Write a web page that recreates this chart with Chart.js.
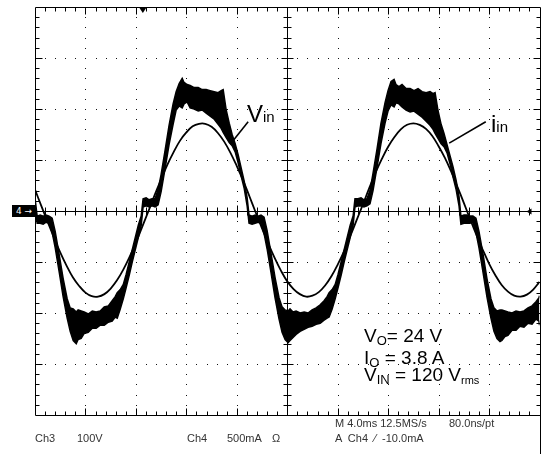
<!DOCTYPE html>
<html>
<head>
<meta charset="utf-8">
<script src="https://cdn.jsdelivr.net/npm/chart.js"></script>
<style>
  html, body { margin: 0; padding: 0; background: #fff; }
  #wrap { position: relative; width: 544px; height: 454px; overflow: hidden; font-family: "Liberation Sans", Arial, sans-serif; color: #000; }
  #scope { position: absolute; left: 0; top: 0; }
  .lbl { position: absolute; white-space: pre; }
  .big { font-size: 24px; line-height: 24px; }
  .big .s { font-size: 15px; }
  .cond { font-size: 19px; line-height: 19px; }
  .cond .s { font-size: 13px; vertical-align: -3px; }
  .cond .r { font-size: 11px; vertical-align: -3px; }
  .foot { font-size: 11px; line-height: 11px; color: #333; }
  #ch4mark { position: absolute; left: 12px; top: 205px; width: 23px; height: 12px; background: #000; color: #fff; font-family: "DejaVu Sans", sans-serif; font-size: 9px; line-height: 12px; padding-left: 4px; box-sizing: border-box; white-space: pre; overflow: hidden; }
</style>
</head>
<body>
<div id="wrap">
  <canvas id="scope" width="544" height="454"></canvas>
  <div id="ch4mark">4 →</div>
  <div class="lbl big" style="left:247px; top:102px;">V<span class="s">in</span></div>
  <div class="lbl big" style="left:491px; top:112px;">i<span class="s">in</span></div>
  <div class="lbl cond" style="left:364px; top:326px;">V<span class="s">O</span>= 24 V</div>
  <div class="lbl cond" style="left:364px; top:348px;">I<span class="s">O</span> = 3.8 A</div>
  <div class="lbl cond" style="left:364px; top:365px;">V<span class="s">IN</span> = 120 V<span class="r">rms</span></div>
  <div class="lbl foot" style="left:35px; top:433px;">Ch3</div>
  <div class="lbl foot" style="left:77px; top:433px;">100V</div>
  <div class="lbl foot" style="left:187px; top:433px;">Ch4</div>
  <div class="lbl foot" style="left:227px; top:433px;">500mA</div>
  <div class="lbl foot" style="left:272px; top:433px;">Ω</div>
  <div class="lbl foot" style="left:335px; top:418px;">M 4.0ms 12.5MS/s</div>
  <div class="lbl foot" style="left:449px; top:418px;">80.0ns/pt</div>
  <div class="lbl foot" style="left:335px; top:433px;">A  Ch4  ⁄  -10.0mA</div>
</div>
<script>
// Ch3: line voltage (V), sampled every 0.5 ms
const tV = [
  0, 0.5, 1, 1.5, 2, 2.5, 3, 3.5, 4, 4.5, 5, 5.5, 6, 6.5, 7, 7.5, 8, 8.5, 9, 9.5,
  10, 10.5, 11, 11.5, 12, 12.5, 13, 13.5, 14, 14.5, 15, 15.5, 16, 16.5, 17, 17.5, 18, 18.5, 19, 19.5,
  20, 20.5, 21, 21.5, 22, 22.5, 23, 23.5, 24, 24.5, 25, 25.5, 26, 26.5, 27, 27.5, 28, 28.5, 29, 29.5,
  30, 30.5, 31, 31.5, 32, 32.5, 33, 33.5, 34, 34.5, 35, 35.5, 36, 36.5, 37, 37.5, 38, 38.5, 39, 39.5, 40
];
const vIn = [
  42, 10, -21, -52, -81, -107, -130, -147, -160, -167, -168, -163, -152, -136, -115, -90, -62, -31, 0, 32,
  62, 91, 116, 138, 154, 166, 171, 171, 165, 153, 136, 114, 88, 60, 29, -3, -34, -64, -92, -117,
  -138, -153, -163, -168, -166, -159, -146, -128, -105, -79, -49, -18, 13, 45, 75, 102, 126, 145, 160, 169,
  172, 169, 161, 147, 127, 104, 77, 47, 16, -16, -47, -76, -103, -126, -145, -158, -166, -168, -164, -154, -139
];

// Ch4: input current (A). The switching ripple is a band: upper and lower envelope.
const tCur = [
  0.00,
  0.17, 0.41, 0.65, 0.88, 1.12, 1.36, 1.60, 1.92, 2.23, 2.55, 2.79, 3.03, 3.27, 3.42, 3.66, 3.90, 4.22,
  4.54, 4.85, 5.17, 5.49, 5.81, 6.12, 6.36, 6.52, 6.76, 7.00, 7.23, 7.47, 7.71, 7.95, 8.19, 8.42,
  8.57, 8.81, 9.05, 9.28, 9.52, 9.76, 10.00, 10.32, 10.63, 10.95, 11.19, 11.43, 11.67, 11.82, 12.06, 12.30, 12.62,
  12.94, 13.25, 13.57, 13.89, 14.21, 14.52, 14.76, 14.92, 15.16, 15.40, 15.63, 15.87, 16.11, 16.35, 16.59, 16.82,
  16.97, 17.21, 17.45, 17.68, 17.92, 18.16, 18.40, 18.72, 19.03, 19.35, 19.59, 19.83, 20.07, 20.22, 20.46, 20.70, 21.02,
  21.34, 21.65, 21.97, 22.29, 22.61, 22.92, 23.16, 23.32, 23.56, 23.80, 24.03, 24.27, 24.51, 24.75, 24.99, 25.22,
  25.37, 25.61, 25.85, 26.08, 26.32, 26.56, 26.80, 27.12, 27.43, 27.75, 27.99, 28.23, 28.47, 28.62, 28.86, 29.10, 29.42,
  29.74, 30.05, 30.37, 30.69, 31.01, 31.32, 31.56, 31.72, 31.96, 32.20, 32.43, 32.67, 32.91, 33.15, 33.39, 33.62,
  33.77, 34.01, 34.25, 34.48, 34.72, 34.96, 35.20, 35.52, 35.83, 36.15, 36.39, 36.63, 36.87, 37.02, 37.26, 37.50, 37.82,
  38.14, 38.45, 38.77, 39.09, 39.41, 39.72, 39.96, 40.00
];
const iHigh = [
  0.13,
  -0.05, -0.04, -0.05, -0.04, -0.05, -0.07, -0.20, -0.43, -0.66, -0.86, -0.95, -0.96, -0.99, -0.97, -0.98, -0.99, -1.01,
  -0.98, -0.99, -0.98, -0.94, -0.93, -0.88, -0.84, -0.80, -0.77, -0.72, -0.62, -0.50, -0.38, -0.26, -0.14, -0.05,
  0.12, 0.13, 0.11, 0.12, 0.12, 0.21, 0.36, 0.60, 0.84, 1.05, 1.17, 1.25, 1.30, 1.26, 1.24, 1.23, 1.21,
  1.21, 1.19, 1.19, 1.18, 1.17, 1.16, 1.18, 1.19, 0.99, 0.86, 0.75, 0.66, 0.55, 0.42, 0.29, 0.13,
  -0.04, -0.05, -0.04, -0.05, -0.04, -0.06, -0.19, -0.42, -0.65, -0.85, -0.94, -0.97, -0.98, -0.96, -0.99, -0.98, -1.00,
  -0.99, -1.00, -0.97, -0.95, -0.92, -0.88, -0.84, -0.80, -0.77, -0.72, -0.62, -0.50, -0.38, -0.26, -0.14, -0.05,
  0.12, 0.12, 0.13, 0.11, 0.12, 0.20, 0.37, 0.61, 0.86, 1.06, 1.18, 1.27, 1.29, 1.24, 1.22, 1.24, 1.20,
  1.20, 1.18, 1.20, 1.17, 1.16, 1.17, 1.15, 1.16, 0.98, 0.85, 0.76, 0.65, 0.54, 0.43, 0.30, 0.14,
  -0.05, -0.04, -0.04, -0.05, -0.05, -0.07, -0.20, -0.42, -0.66, -0.86, -0.95, -0.98, -0.97, -0.97, -0.98, -0.99, -1.00,
  -0.98, -0.99, -0.98, -0.95, -0.93, -0.89, -0.85, -0.83
];
const iLow = [
  0.05,
  -0.12, -0.12, -0.13, -0.11, -0.12, -0.21, -0.36, -0.60, -0.84, -1.05, -1.18, -1.27, -1.30, -1.26, -1.25, -1.20, -1.19,
  -1.15, -1.15, -1.12, -1.12, -1.09, -1.08, -1.04, -1.05, -0.96, -0.86, -0.75, -0.63, -0.50, -0.38, -0.26, -0.14,
  0.04, 0.05, 0.04, 0.05, 0.04, 0.06, 0.19, 0.42, 0.65, 0.85, 0.99, 1.03, 1.01, 1.05, 1.07, 1.01, 1.00,
  0.98, 0.99, 0.96, 0.93, 0.90, 0.85, 0.81, 0.77, 0.72, 0.67, 0.64, 0.58, 0.47, 0.34, 0.22, 0.05,
  -0.12, -0.13, -0.12, -0.11, -0.12, -0.22, -0.37, -0.61, -0.85, -1.06, -1.19, -1.26, -1.29, -1.27, -1.24, -1.21, -1.18,
  -1.16, -1.14, -1.13, -1.11, -1.10, -1.07, -1.05, -1.04, -0.96, -0.86, -0.75, -0.63, -0.50, -0.38, -0.26, -0.14,
  0.04, 0.05, 0.05, 0.04, 0.05, 0.07, 0.20, 0.43, 0.66, 0.86, 0.98, 1.04, 1.02, 1.06, 1.05, 1.02, 0.99,
  0.97, 0.98, 0.95, 0.92, 0.88, 0.84, 0.80, 0.76, 0.71, 0.66, 0.63, 0.57, 0.46, 0.33, 0.21, 0.05,
  -0.13, -0.12, -0.12, -0.12, -0.11, -0.21, -0.36, -0.60, -0.84, -1.05, -1.18, -1.25, -1.28, -1.27, -1.23, -1.22, -1.17,
  -1.17, -1.13, -1.14, -1.10, -1.11, -1.06, -1.08, -1.12
];

// screen: 10 div x 4 ms, 8 div x 100 V (Ch3) / 500 mA (Ch4)
const trigTime = 8.55;
// label leader lines, [t ms, V]
const vinLeader = [[15.48, 131], [16.90, 175]];
const iinLeader = [[32.84, 133], [35.74, 175]];

const pts = (xs, ys) => ys.map((y, i) => ({ x: xs[i], y: y }));

const graticule = {
  id: 'graticule',
  beforeDatasetsDraw(chart) {
    const { ctx, chartArea: a, scales: { x, yV } } = chart;
    const L = Math.round(a.left) + 0.5, R = Math.round(a.right) + 0.5;
    const T = Math.round(a.top) + 0.5, B = Math.round(a.bottom) + 0.5;
    const cx = Math.round(x.getPixelForValue(20)) + 0.5;
    const cy = Math.round(yV.getPixelForValue(0)) + 0.5;
    ctx.save();
    // dotted graticule
    ctx.fillStyle = '#111';
    for (let k = 1; k < 10; k++) {
      if (k === 5) continue;
      const px = Math.round(x.getPixelForValue(k * 4));
      for (let j = 1; j < 40; j++) ctx.fillRect(px, Math.round(yV.getPixelForValue(-400 + j * 20)), 1, 1);
    }
    for (let k = 1; k < 8; k++) {
      if (k === 4) continue;
      const py = Math.round(yV.getPixelForValue(-400 + k * 100));
      for (let j = 1; j < 50; j++) ctx.fillRect(Math.round(x.getPixelForValue(j * 0.8)), py, 1, 1);
    }
    ctx.strokeStyle = '#000';
    ctx.lineWidth = 1;
    ctx.beginPath();
    // frame
    ctx.moveTo(L, B); ctx.lineTo(L, T); ctx.lineTo(R, T);
    ctx.moveTo(L, B); ctx.lineTo(R, B);
    ctx.moveTo(R, T); ctx.lineTo(R, 454);
    // centre cross
    ctx.moveTo(cx, T); ctx.lineTo(cx, B);
    ctx.moveTo(L, cy); ctx.lineTo(R, cy);
    // ticks along x
    for (let j = 1; j < 50; j++) {
      const px = Math.round(x.getPixelForValue(j * 0.8)) + 0.5;
      const major = j % 5 === 0;
      const len = major ? 7 : 4;
      ctx.moveTo(px, T); ctx.lineTo(px, T + len);
      ctx.moveTo(px, B); ctx.lineTo(px, B - len);
      ctx.moveTo(px, cy - (major ? 6 : 4)); ctx.lineTo(px, cy + (major ? 6 : 4));
    }
    // ticks along y
    for (let j = 1; j < 40; j++) {
      const py = Math.round(yV.getPixelForValue(-400 + j * 20)) + 0.5;
      const major = j % 5 === 0;
      const len = major ? 7 : 4;
      ctx.moveTo(L, py); ctx.lineTo(L + len, py);
      ctx.moveTo(R, py); ctx.lineTo(R - len, py);
      ctx.moveTo(cx - (major ? 6 : 4), py); ctx.lineTo(cx + (major ? 6 : 4), py);
    }
    ctx.stroke();
    ctx.restore();
  },
  afterDraw(chart) {
    const { ctx, chartArea: a, scales: { x, yV } } = chart;
    const cy = Math.round(yV.getPixelForValue(0)) + 0.5;
    ctx.save();
    ctx.strokeStyle = '#000';
    ctx.fillStyle = '#000';
    ctx.lineWidth = 1.6;
    [vinLeader, iinLeader].forEach(l => {
      ctx.beginPath();
      ctx.moveTo(x.getPixelForValue(l[0][0]), yV.getPixelForValue(l[0][1]));
      ctx.lineTo(x.getPixelForValue(l[1][0]), yV.getPixelForValue(l[1][1]));
      ctx.stroke();
    });
    // trigger position marker
    const tx = x.getPixelForValue(trigTime);
    ctx.beginPath();
    ctx.moveTo(tx - 4, a.top); ctx.lineTo(tx + 4, a.top); ctx.lineTo(tx, a.top + 6);
    ctx.closePath(); ctx.fill();
    // trigger level arrow on the right edge
    ctx.lineWidth = 1;
    ctx.beginPath();
    ctx.moveTo(a.right - 11, cy); ctx.lineTo(a.right, cy);
    ctx.stroke();
    ctx.beginPath();
    ctx.moveTo(a.right - 13, cy); ctx.lineTo(a.right - 8, cy - 3); ctx.lineTo(a.right - 8, cy + 3);
    ctx.closePath(); ctx.fill();
    ctx.restore();
  }
};

new Chart(document.getElementById('scope'), {
  type: 'line',
  data: {
    datasets: [
      {
        label: 'i_in high',
        data: pts(tCur, iHigh),
        yAxisID: 'yI',
        borderColor: '#000',
        backgroundColor: '#000',
        borderWidth: 1.5,
        pointRadius: 0,
        tension: 0,
        fill: '+1'
      },
      {
        label: 'i_in low',
        data: pts(tCur, iLow),
        yAxisID: 'yI',
        borderColor: '#000',
        borderWidth: 1.5,
        pointRadius: 0,
        tension: 0,
        fill: false
      },
      {
        label: 'V_in',
        data: pts(tV, vIn),
        yAxisID: 'yV',
        borderColor: '#000',
        borderWidth: 1.8,
        pointRadius: 0,
        tension: 0.4,
        fill: false
      }
    ]
  },
  options: {
    responsive: false,
    devicePixelRatio: 1,
    animation: false,
    layout: { padding: { left: 35, right: 4.5, top: 7, bottom: 39 } },
    plugins: { legend: { display: false }, tooltip: { enabled: false } },
    scales: {
      x: { type: 'linear', min: 0, max: 40, display: false },
      yV: { type: 'linear', min: -400, max: 400, display: false },
      yI: { type: 'linear', min: -2, max: 2, display: false }
    }
  },
  plugins: [graticule]
});
</script>
</body>
</html>
